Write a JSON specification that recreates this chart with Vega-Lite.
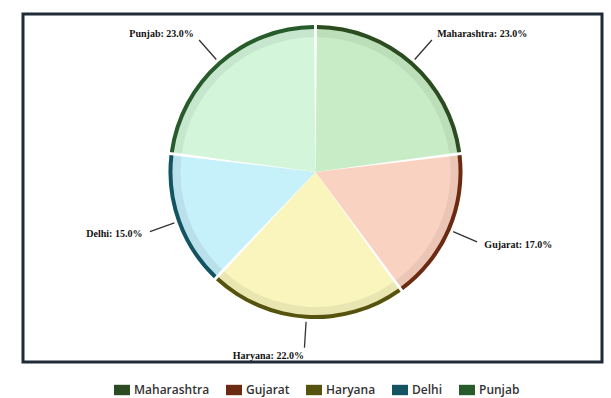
{
  "$schema": "https://vega.github.io/schema/vega-lite/v6.json",
  "width": 579,
  "height": 348,
  "autosize": {"type": "none"},
  "padding": {"left": 23, "top": 14, "right": 9, "bottom": 36},
  "background": "white",
  "view": {"stroke": "#1f2b36", "strokeWidth": 3},
  "data": {
    "values": [
      {"state": "Maharashtra", "share": 23, "k": 1, "label": "Maharashtra: 23.0%"},
      {"state": "Gujarat", "share": 17, "k": 2, "label": "Gujarat: 17.0%"},
      {"state": "Haryana", "share": 22, "k": 3, "label": "Haryana: 22.0%"},
      {"state": "Delhi", "share": 15, "k": 4, "label": "Delhi: 15.0%"},
      {"state": "Punjab", "share": 23, "k": 5, "label": "Punjab: 23.0%"}
    ]
  },
  "encoding": {
    "theta": {"field": "share", "type": "quantitative", "stack": true},
    "order": {"field": "k", "type": "quantitative"}
  },
  "layer": [
    {
      "mark": {"type": "arc", "outerRadius": 147, "padAngle": 0.02, "xOffset": 3, "yOffset": -16},
      "encoding": {
        "fill": {
          "field": "state", "type": "nominal",
          "scale": {"range": ["#c6f0fa", "#fad2c2", "#f9f5bd", "#c8edc6", "#d3f5da"]},
          "legend": null
        }
      }
    },
    {
      "mark": {"type": "arc", "innerRadius": 135, "outerRadius": 143, "padAngle": 0.015, "fill": "#000000", "opacity": 0.06, "xOffset": 3, "yOffset": -16},
      "encoding": {"detail": {"field": "state", "type": "nominal"}}
    },
    {
      "mark": {"type": "arc", "innerRadius": 143, "outerRadius": 147, "padAngle": 0.0145, "xOffset": 3, "yOffset": -16},
      "encoding": {
        "color": {
          "field": "state", "type": "nominal",
          "scale": {"domain": ["Maharashtra", "Gujarat", "Haryana", "Delhi", "Punjab"],
                    "range": ["#2c4b20", "#6b2b12", "#56520f", "#145462", "#285b2c"]},
          "legend": {
            "title": null,
            "orient": "none",
            "legendX": 91,
            "legendY": 368,
            "direction": "horizontal",
            "symbolType": "M-1,-0.65H1V0.65H-1Z",
            "symbolSize": 256,
            "symbolStrokeWidth": 0,
            "labelFont": "Open Sans",
            "labelFontSize": 12,
            "labelFontWeight": 600,
            "labelColor": "#333333",
            "columnPadding": 16
          }
        }
      }
    },
    {
      "mark": {"type": "arc", "innerRadius": 150, "outerRadius": 176, "padAngle": 1.4, "fill": null, "stroke": "#333333", "strokeWidth": 1.3, "xOffset": 3, "yOffset": -16},
      "encoding": {"detail": {"field": "state", "type": "nominal"}}
    },
    {
      "mark": {"type": "text", "radius": 184, "font": "Liberation Serif", "fontWeight": "bold", "fontSize": 10, "color": "#111111",
               "align": {"expr": "datum.k <= 2 ? 'left' : 'right'"}, "baseline": "middle", "xOffset": 3, "yOffset": -16},
      "encoding": {
        "text": {"field": "label", "type": "nominal"},
        "detail": {"field": "state", "type": "nominal"}
      }
    }
  ]
}
